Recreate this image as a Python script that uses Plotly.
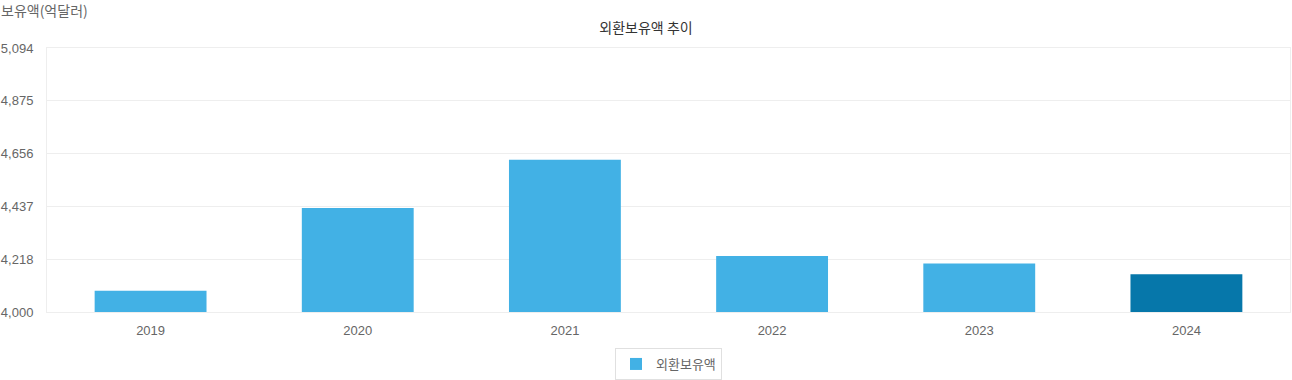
import plotly.graph_objects as go

years = ["2019", "2020", "2021", "2022", "2023", "2024"]
reserves = [4088, 4431, 4631, 4232, 4201, 4156]
bar_colors = ["#42b1e5", "#42b1e5", "#42b1e5", "#42b1e5", "#42b1e5", "#0677aa"]
tick_vals = [4000, 4218.8, 4437.6, 4656.4, 4875.2, 5094]
tick_text = ["4,000", "4,218", "4,437", "4,656", "4,875", "5,094"]

font_family = "Liberation Sans, Arial, Noto Sans CJK KR, sans-serif"
kr_family = "Noto Sans CJK KR, sans-serif"

fig = go.Figure(
    go.Bar(
        x=years,
        y=reserves,
        name="외환보유액",
        marker=dict(color=bar_colors, line=dict(width=0)),
        showlegend=True,
        hovertemplate="%{x}: %{y:,}<extra></extra>",
    )
)

fig.update_layout(
    width=1292,
    height=380,
    autosize=False,
    margin=dict(l=47, r=2, t=48, b=68, autoexpand=False),
    paper_bgcolor="white",
    plot_bgcolor="white",
    bargap=0.46,
    font=dict(family=font_family, size=13, color="#666666"),
    title=dict(
        text="외환보유액 추이",
        x=0.5,
        xanchor="center",
        y=1 - 28 / 380,
        yanchor="middle",
        font=dict(size=14, color="#333333", family=kr_family),
    ),
    legend=dict(
        orientation="h",
        x=0.5,
        xanchor="center",
        y=-36 / 264,
        yanchor="top",
        bordercolor="#e0e0e0",
        borderwidth=1,
        itemwidth=30,
        font=dict(size=13, color="#666666", family=kr_family),
    ),
    annotations=[
        dict(
            text="보유액(억달러)",
            xref="paper",
            yref="paper",
            x=0,
            xanchor="left",
            y=1 + 38 / 264,
            yanchor="middle",
            xshift=-48,
            showarrow=False,
            font=dict(size=14, color="#666666", family=kr_family),
        )
    ],
)

fig.update_xaxes(
    type="category",
    showline=True,
    linecolor="#eeeeee",
    linewidth=1,
    mirror=True,
    showgrid=False,
    ticks="outside",
    ticklen=6,
    tickcolor="rgba(0,0,0,0)",
    tickfont=dict(size=13, color="#666666"),
)
fig.update_yaxes(
    range=[4000, 5094],
    tickvals=tick_vals,
    ticktext=tick_text,
    showgrid=True,
    gridcolor="#eeeeee",
    showline=True,
    linecolor="#eeeeee",
    mirror=True,
    zeroline=False,
    ticks="outside",
    ticklen=10,
    tickcolor="rgba(0,0,0,0)",
    tickfont=dict(size=13, color="#666666"),
)

post_js = (
    "document.documentElement.style.margin='0';"
    "document.body.style.margin='0';"
    "document.body.style.overflow='hidden';"
    "var gd=document.getElementById('{plot_id}');"
    "Plotly.relayout(gd,{width:1292,height:380});"
)

fig.write_html(
    "out.html",
    config={"responsive": False, "displayModeBar": False},
    post_script=post_js,
)
